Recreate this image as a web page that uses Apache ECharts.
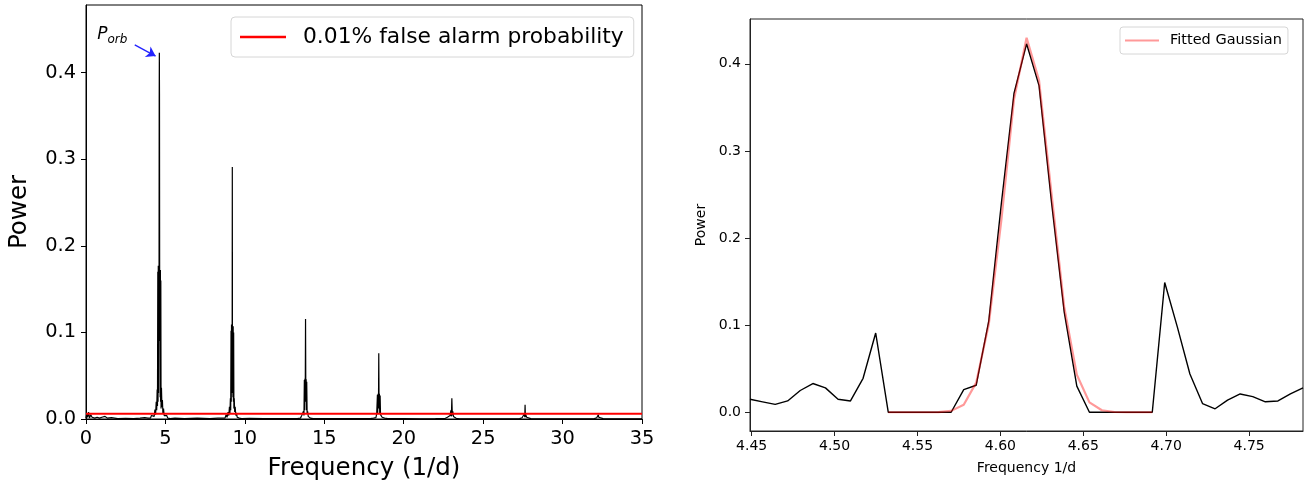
<!DOCTYPE html>
<html>
<head>
<meta charset="utf-8">
<script src="https://cdn.jsdelivr.net/npm/echarts@6/dist/echarts.min.js"></script>
<style>
  html, body { margin: 0; padding: 0; background: #fff; }
  #chart { width: 1307px; height: 486px; }
</style>
</head>
<body>
<div id="chart"></div>
<script>
// ---- Left panel: Lomb-Scargle periodogram (frequency 1/d, power) ----
const lowBand = [[0,0.001],[0.05,0.006],[0.1,0.002],[0.16,0.008],[0.22,0.001],[0.3,0.005],[0.38,0.002],[0.45,0.004],[0.55,0.001],[0.7,0.002],[0.85,0.001],[1.0,0.002],[1.2,0.003],[1.35,0.001],[1.6,0.0015],[2.0,0.0005],[2.5,0.0008],[3.0,0.0005],[3.4,0.001],[3.7,0.0015]];
const peak1 = [[3.9,0.001],[4.0,0.003],[4.06,0.001],[4.12,0.004],[4.18,0.002],[4.24,0.006],[4.29,0.003],[4.34,0.011],[4.38,0.005],[4.42,0.02],[4.45,0.01],[4.48,0.034],[4.5,0.015],[4.52,0.17],[4.535,0.02],[4.55,0.177],[4.565,0.03],[4.58,0.165],[4.595,0.1],[4.608,0.366],[4.617,0.423],[4.626,0.375],[4.64,0.09],[4.655,0.168],[4.668,0.025],[4.682,0.172],[4.695,0.02],[4.71,0.16],[4.725,0.012],[4.75,0.036],[4.78,0.014],[4.81,0.022],[4.84,0.007],[4.88,0.012],[4.92,0.004],[4.97,0.006],[5.02,0.002],[5.08,0.004],[5.15,0.001],[5.22,0.002],[5.3,0.0005]];
const gap1 = [[5.6,0.001],[6.2,0.0005],[7.0,0.001],[7.8,0.0005],[8.3,0.001]];
const peak2 = [[8.6,0.001],[8.68,0.003],[8.75,0.001],[8.82,0.005],[8.88,0.002],[8.94,0.008],[8.99,0.004],[9.03,0.014],[9.06,0.007],[9.09,0.024],[9.11,0.01],[9.13,0.102],[9.145,0.02],[9.16,0.109],[9.175,0.03],[9.19,0.106],[9.2,0.07],[9.21,0.291],[9.22,0.06],[9.235,0.105],[9.25,0.025],[9.265,0.107],[9.28,0.02],[9.295,0.1],[9.31,0.012],[9.33,0.024],[9.36,0.008],[9.39,0.014],[9.43,0.004],[9.47,0.007],[9.52,0.002],[9.58,0.004],[9.65,0.001],[9.72,0.002],[9.8,0.0005]];
const gap2 = [[10.3,0.0008],[11.2,0.0005],[12.1,0.0006],[12.9,0.0005]];
const peak3 = [[13.3,0.0005],[13.42,0.002],[13.5,0.001],[13.58,0.004],[13.64,0.002],[13.69,0.009],[13.72,0.004],[13.745,0.045],[13.76,0.01],[13.78,0.0465],[13.8,0.02],[13.82,0.1155],[13.84,0.02],[13.86,0.046],[13.875,0.01],[13.895,0.043],[13.92,0.006],[13.95,0.009],[13.99,0.003],[14.05,0.004],[14.12,0.001],[14.2,0.0015],[14.3,0.0005]];
const gap3 = [[15,0.0005],[16,0.0004],[17,0.0005]];
const peak4 = [[17.9,0.0005],[18.02,0.002],[18.1,0.001],[18.18,0.003],[18.25,0.0015],[18.3,0.006],[18.345,0.028],[18.36,0.007],[18.39,0.029],[18.41,0.012],[18.43,0.076],[18.45,0.012],[18.47,0.029],[18.49,0.006],[18.515,0.027],[18.54,0.005],[18.58,0.006],[18.64,0.002],[18.72,0.003],[18.8,0.001],[19.0,0.0005]];
const gap4 = [[20,0.0004],[21,0.0003],[22,0.0004]];
const peak5 = [[22.6,0.0005],[22.75,0.002],[22.85,0.001],[22.92,0.004],[22.97,0.01],[23.0,0.003],[23.03,0.024],[23.06,0.004],[23.09,0.009],[23.13,0.003],[23.2,0.002],[23.3,0.0008],[23.45,0.0005]];
const gap5 = [[24.5,0.0003],[26,0.0003]];
const peak6 = [[27.3,0.0005],[27.45,0.0015],[27.55,0.003],[27.6,0.006],[27.62,0.002],[27.64,0.0165],[27.66,0.002],[27.68,0.005],[27.74,0.002],[27.85,0.001],[28.0,0.0005]];
const gap6 = [[29.5,0.0002],[31,0.0003]];
const peak7 = [[32.0,0.0005],[32.15,0.0015],[32.22,0.002],[32.25,0.005],[32.28,0.002],[32.4,0.001],[32.55,0.0005]];
const tail = [[33.5,0.0002],[35,0.0002]];

const falseAlarmLevel = 0.006;
const leftXTicks = [0, 5, 10, 15, 20, 25, 30, 35];
const leftYTicks = [0, 0.1, 0.2, 0.3, 0.4];

// ---- Right panel: zoom on the orbital peak with the Gaussian fit ----
const rightFreq = [4.4490,4.4566,4.4642,4.4717,4.4793,4.4869,4.4945,4.5021,4.5096,4.5172,4.5248,4.5324,4.5400,4.5475,4.5551,4.5627,4.5703,4.5779,4.5854,4.5930,4.6006,4.6082,4.6158,4.6233,4.6309,4.6385,4.6461,4.6537,4.6612,4.6688,4.6764,4.6840,4.6916,4.6991,4.7067,4.7143,4.7219,4.7295,4.7370,4.7446,4.7522,4.7598,4.7674,4.7749,4.7825];
const rightPower = [0.015,0.012,0.009,0.013,0.025,0.033,0.028,0.015,0.013,0.039,0.091,0,0,0,0,0,0,0.026,0.031,0.105,0.24,0.366,0.423,0.375,0.24,0.115,0.030,0,0,0,0,0,0,0.149,0.098,0.044,0.010,0.004,0.014,0.021,0.018,0.012,0.013,0.021,0.028];
const gaussFreq = [4.5324,4.5400,4.5475,4.5551,4.5627,4.5703,4.5779,4.5854,4.5930,4.6006,4.6082,4.6158,4.6233,4.6309,4.6385,4.6461,4.6537,4.6612,4.6688,4.6764,4.6840,4.6916];
const gaussPower = [0,0,0,0,0.0002,0.0016,0.0086,0.034,0.101,0.221,0.359,0.430,0.381,0.250,0.121,0.043,0.0114,0.0023,0.0003,0,0,0];
const rightXTicks = [4.45, 4.50, 4.55, 4.60, 4.65, 4.70, 4.75];
const rightYTicks = [0, 0.1, 0.2, 0.3, 0.4];

const periodogram = [].concat(lowBand, peak1, gap1, peak2, gap2, peak3, gap3, peak4, gap4, peak5, gap5, peak6, gap6, peak7, tail);
const zoomSeries = rightFreq.map((f, i) => [f, rightPower[i]]);
const gaussSeries = gaussFreq.map((f, i) => [f, gaussPower[i]]);

const FONT = 'DejaVu Sans';

function valueAxis(opts) {
  return Object.assign({
    type: 'value',
    splitLine: { show: false },
    axisLine: { show: true, onZero: false, lineStyle: { color: '#000', width: 1 } },
    axisTick: { show: true, inside: false, length: 5, lineStyle: { color: '#000', width: 1 } },
    nameTextStyle: { color: '#000', fontFamily: FONT },
  }, opts);
}

const chart = echarts.init(document.getElementById('chart'), null, { renderer: 'canvas' });

chart.setOption({
  animation: false,
  backgroundColor: '#fff',
  grid: [
    { left: 86, right: 665, top: 5, bottom: 66, show: true, borderColor: '#000', borderWidth: 1, backgroundColor: 'transparent' },
    { left: 750, right: 4, top: 19, bottom: 55, show: true, borderColor: '#222', borderWidth: 1, backgroundColor: 'transparent' }
  ],
  legend: [
    {
      data: ['0.01% false alarm probability'],
      left: 231, top: 17,
      padding: [8, 10, 8, 9],
      itemWidth: 46, itemHeight: 2.5, icon: 'rect',
      borderColor: '#d6d6d6', borderWidth: 1, borderRadius: 4,
      backgroundColor: 'rgba(255,255,255,0.8)',
      textStyle: { fontFamily: FONT, fontSize: 21.8, color: '#000', padding: [0, 0, 0, 12], lineHeight: 24 },
      selectedMode: false
    },
    {
      data: ['Fitted Gaussian'],
      left: 1120, top: 27,
      padding: [5, 6, 5, 5],
      itemWidth: 34, itemHeight: 2, icon: 'rect',
      borderColor: '#d6d6d6', borderWidth: 1, borderRadius: 3,
      backgroundColor: 'rgba(255,255,255,0.8)',
      textStyle: { fontFamily: FONT, fontSize: 14.5, color: '#000', padding: [0, 0, 0, 6], lineHeight: 17 },
      selectedMode: false
    }
  ],
  xAxis: [
    valueAxis({
      gridIndex: 0, min: 0, max: 35, interval: 5,
      name: 'Frequency (1/d)', nameLocation: 'middle', nameGap: 37,
      nameTextStyle: { color: '#000', fontFamily: FONT, fontSize: 24.5 },
      axisTick: { show: true, length: 5, customValues: leftXTicks, lineStyle: { color: '#000' } },
      axisLabel: { customValues: leftXTicks, fontFamily: FONT, fontSize: 19.4, color: '#000', margin: 10 }
    }),
    valueAxis({
      gridIndex: 1, min: 4.4490, max: 4.7825,
      name: 'Frequency 1/d', nameLocation: 'middle', nameGap: 30,
      nameTextStyle: { color: '#000', fontFamily: FONT, fontSize: 14 },
      axisLine: { show: true, onZero: false, lineStyle: { color: '#222' } },
      axisTick: { show: true, length: 5, customValues: rightXTicks, lineStyle: { color: '#222' } },
      axisLabel: { customValues: rightXTicks, fontFamily: FONT, fontSize: 14, color: '#000', margin: 8,
        formatter: v => v.toFixed(2) }
    })
  ],
  yAxis: [
    valueAxis({
      gridIndex: 0, min: 0, max: 0.478,
      name: 'Power', nameLocation: 'middle', nameGap: 54,
      nameTextStyle: { color: '#000', fontFamily: FONT, fontSize: 24.5 },
      axisTick: { show: true, length: 5, customValues: leftYTicks, lineStyle: { color: '#000' } },
      axisLabel: { customValues: leftYTicks, fontFamily: FONT, fontSize: 19.4, color: '#000', margin: 10,
        formatter: v => v.toFixed(1) }
    }),
    valueAxis({
      gridIndex: 1, min: -0.0215, max: 0.4515,
      name: 'Power', nameLocation: 'middle', nameGap: 42,
      nameTextStyle: { color: '#000', fontFamily: FONT, fontSize: 14 },
      axisLine: { show: true, onZero: false, lineStyle: { color: '#222' } },
      axisTick: { show: true, length: 5, customValues: rightYTicks, lineStyle: { color: '#222' } },
      axisLabel: { customValues: rightYTicks, fontFamily: FONT, fontSize: 14, color: '#000', margin: 9,
        formatter: v => v.toFixed(1) }
    })
  ],
  series: [
    {
      name: 'periodogram', type: 'line', xAxisIndex: 0, yAxisIndex: 0,
      data: periodogram, showSymbol: false, symbol: 'none',
      lineStyle: { color: '#000', width: 1.2 }, z: 2, silent: true,
      markPoint: {
        silent: true,
        symbol: 'rect', symbolSize: 0,
        data: [{ coord: [1.65, 0.444] }],
        label: {
          show: true, position: 'inside',
          formatter: '{p|P}{s|orb}',
          rich: {
            p: { fontFamily: FONT, fontStyle: 'italic', fontSize: 17, color: '#000', lineHeight: 22, verticalAlign: 'middle' },
            s: { fontFamily: FONT, fontStyle: 'italic', fontSize: 12, color: '#000', lineHeight: 22, verticalAlign: 'bottom', padding: [7, 0, 0, 0] }
          }
        }
      },
      markLine: {
        silent: true,
        symbol: ['none', 'arrow'], symbolSize: 9,
        lineStyle: { color: '#2222ff', width: 1.3, type: 'solid' },
        label: { show: false },
        emphasis: { disabled: true },
        data: [[{ coord: [3.07, 0.432] }, { coord: [4.38, 0.419] }]]
      }
    },
    {
      name: '0.01% false alarm probability', type: 'line', xAxisIndex: 0, yAxisIndex: 0,
      data: [[0, falseAlarmLevel], [35, falseAlarmLevel]],
      showSymbol: false, symbol: 'none',
      itemStyle: { color: '#ff0000' },
      lineStyle: { color: '#ff0000', width: 2 }, z: 3, silent: true
    },
    {
      name: 'zoom', type: 'line', xAxisIndex: 1, yAxisIndex: 1,
      data: zoomSeries, showSymbol: false, symbol: 'none',
      lineStyle: { color: '#000', width: 1.4 }, z: 2, silent: true
    },
    {
      name: 'Fitted Gaussian', type: 'line', xAxisIndex: 1, yAxisIndex: 1,
      data: gaussSeries, showSymbol: false, symbol: 'none',
      itemStyle: { color: 'rgba(255,0,0,0.4)' },
      lineStyle: { color: 'rgba(255,0,0,0.4)', width: 2.2 }, z: 3, silent: true
    }
  ]
});
</script>
</body>
</html>
